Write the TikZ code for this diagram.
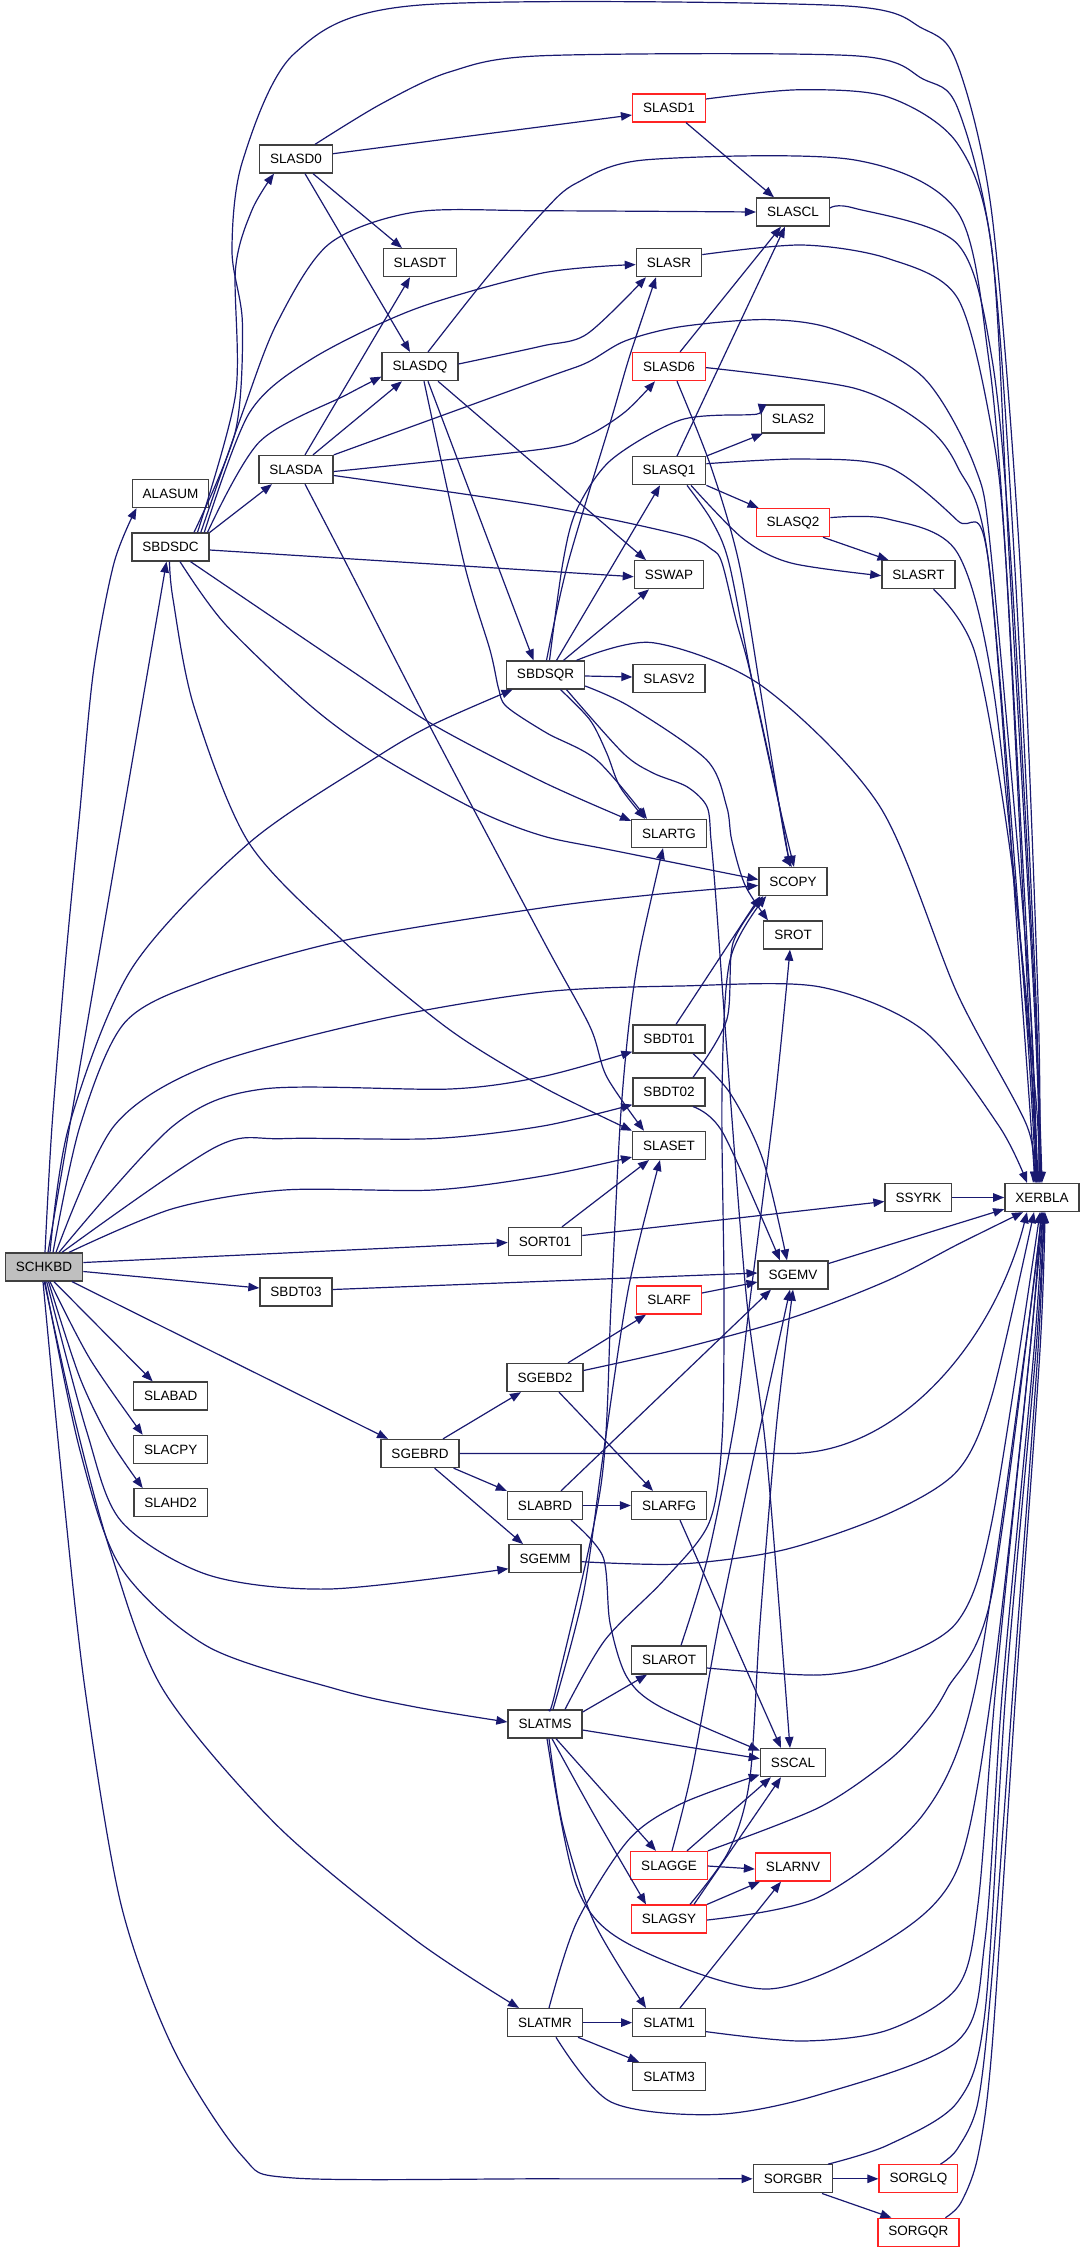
\documentclass[tikz,border=0pt]{standalone}
\usepackage{fontspec}
\setmainfont{Liberation Sans}
\usetikzlibrary{arrows.meta}

\definecolor{callblue}{HTML}{191970}
\definecolor{fnborder}{RGB}{64,64,64}
\definecolor{fnredline}{RGB}{255,36,36}
\definecolor{fngray}{RGB}{191,191,191}

\begin{document}
\begin{tikzpicture}[x=1pt,y=-1pt,
	fn/.style={draw=fnborder,line width=1.3pt,fill=white,inner xsep=10.5pt,inner ysep=0pt,minimum height=28pt,font=\fontsize{13.5pt}{16pt}\selectfont},
	fnred/.style={fn,draw=fnredline},
	fnmain/.style={fn,fill=fngray},
	calls/.style={draw=callblue,line width=1.2pt,-{Triangle[length=11pt,width=8.5pt]}}]
				\useasboundingbox (0,0) rectangle (1085,2252);
				% routines
				\node[fnmain] (schkbd) at (44,1267) {SCHKBD};
				\node[fn] (alasum) at (170.5,493.5) {ALASUM};
				\node[fn] (sbdsdc) at (170.5,547) {SBDSDC};
				\node[fn] (slabad) at (170.7,1396) {SLABAD};
				\node[fn] (slacpy) at (170.7,1449.4) {SLACPY};
				\node[fn] (slahd2) at (170.7,1502.7) {SLAHD2};
				\node[fn] (slasd0) at (296,159) {SLASD0};
				\node[fn] (slasda) at (296,469.5) {SLASDA};
				\node[fn] (sbdt03) at (296,1292) {SBDT03};
				\node[fn] (slasdt) at (420,262.6) {SLASDT};
				\node[fn] (slasdq) at (420,366.6) {SLASDQ};
				\node[fn] (sgebrd) at (420,1453.5) {SGEBRD};
				\node[fn] (sbdsqr) at (545.5,675) {SBDSQR};
				\node[fn] (sort01) at (545,1241.5) {SORT01};
				\node[fn] (sgebd2) at (545,1377.5) {SGEBD2};
				\node[fn] (slabrd) at (545,1505.5) {SLABRD};
				\node[fn] (sgemm) at (545,1558.7) {SGEMM};
				\node[fn] (slatms) at (545,1724) {SLATMS};
				\node[fn] (slatmr) at (545,2022.6) {SLATMR};
				\node[fnred] (slasd1) at (669,108) {SLASD1};
				\node[fn] (slasr) at (669,262.6) {SLASR};
				\node[fnred] (slasd6) at (669,366.6) {SLASD6};
				\node[fn] (slasq1) at (669,470.7) {SLASQ1};
				\node[fn] (sswap) at (669,574.7) {SSWAP};
				\node[fn] (slasv2) at (669,678.5) {SLASV2};
				\node[fn] (slartg) at (669,833.5) {SLARTG};
				\node[fn] (sbdt01) at (669,1039) {SBDT01};
				\node[fn] (sbdt02) at (669,1092) {SBDT02};
				\node[fn] (slaset) at (669,1145.4) {SLASET};
				\node[fnred] (slarf) at (669,1300) {SLARF};
				\node[fn] (slarfg) at (669,1505.5) {SLARFG};
				\node[fn] (slarot) at (669,1660) {SLAROT};
				\node[fnred] (slagge) at (669,1865.5) {SLAGGE};
				\node[fnred] (slagsy) at (669,1919) {SLAGSY};
				\node[fn] (slatm1) at (669,2022.6) {SLATM1};
				\node[fn] (slatm3) at (669,2076.4) {SLATM3};
				\node[fn] (slascl) at (793,212) {SLASCL};
				\node[fn] (slas2) at (793,419) {SLAS2};
				\node[fnred] (slasq2) at (793,522.6) {SLASQ2};
				\node[fn] (scopy) at (793,881.5) {SCOPY};
				\node[fn] (srot) at (793,935) {SROT};
				\node[fn] (sgemv) at (793,1275) {SGEMV};
				\node[fn] (sscal) at (793,1762.6) {SSCAL};
				\node[fnred] (slarnv) at (793,1867) {SLARNV};
				\node[fn] (sorgbr) at (793,2178.8) {SORGBR};
				\node[fn] (slasrt) at (918.5,574.7) {SLASRT};
				\node[fn] (ssyrk) at (918.4,1197.5) {SSYRK};
				\node[fnred] (sorglq) at (918.4,2178.8) {SORGLQ};
				\node[fnred] (sorgqr) at (918.4,2232.3) {SORGQR};
				\node[fn] (xerbla) at (1042,1197.5) {XERBLA};
				% calls from SCHKBD
				\draw[calls] plot[smooth] coordinates {([xshift=1pt]schkbd.north) (52,1126) (65.8,958) (79.6,814) (93.5,671) (114,563) ([xshift=-34pt]alasum.south)};
				\draw[calls] ([xshift=4pt]schkbd.north) -- ([xshift=-4pt]sbdsdc.south);
				\draw[calls] plot[smooth] coordinates {([xshift=6pt]schkbd.north) (69,1126) (131.6,968.7) (249,843) (374,758.7) (433,724.6) ([xshift=-33pt]sbdsqr.south)};
				\draw[calls] plot[smooth] coordinates {([xshift=9pt]schkbd.north) (80,1126) (124.7,1022.6) (207.8,979.5) (346,940) (543,907.7) (650,895) ([yshift=-4pt]scopy.west)};
				\draw[calls] plot[smooth] coordinates {([xshift=12pt]schkbd.north) (114,1126) (207.8,1065.7) (381,1019) (543,992) (680,986) (819,986.7) (923,1030) (999,1126) ([xshift=-15pt]xerbla.north)};
				\draw[calls] plot[smooth] coordinates {([xshift=15pt]schkbd.north) (173,1126) (263,1089) (450,1089) (543,1076.5) ([yshift=2pt]sbdt01.south west)};
				\draw[calls] plot[smooth] coordinates {([xshift=18pt]schkbd.north) (214.7,1147.5) (284,1138.6) (433,1138.6) (543,1126) ([yshift=2pt]sbdt02.south west)};
				\draw[calls] plot[smooth] coordinates {([xshift=25pt]schkbd.north) (173,1208.6) (284,1190) (433,1190) (543,1176) ([yshift=3pt]slaset.south west)};
				\draw[calls] ([yshift=4.5pt]schkbd.east) -- ([yshift=-1pt]sort01.west);
				\draw[calls] ([yshift=-4.5pt]schkbd.east) -- ([yshift=4pt]sbdt03.west);
				\draw[calls] ([xshift=28pt]schkbd.south) -- ([xshift=-32pt]sgebrd.north);
				\draw[calls] ([xshift=10pt]schkbd.south) -- ([xshift=-18pt]slabad.north);
				\draw[calls] plot[smooth] coordinates {([xshift=6pt]schkbd.south) (90,1359) ([xshift=-28pt]slacpy.north)};
				\draw[calls] plot[smooth] coordinates {([xshift=4.5pt]schkbd.south) (79.6,1377) (110,1440) ([xshift=-28pt]slahd2.north)};
				\draw[calls] plot[smooth] coordinates {([xshift=2.7pt]schkbd.south) (86.6,1431) (121,1521) (207.8,1574.8) (329,1589) ([yshift=-10pt]sgemm.west)};
				\draw[calls] plot[smooth] coordinates {([xshift=1pt]schkbd.south) (79.6,1449) (121,1567.6) (207.8,1646.6) (336,1689) (415.5,1707) ([yshift=2pt]slatms.west)};
				\draw[calls] plot[smooth] coordinates {([xshift=0.3pt]schkbd.south) (75,1420) (110,1550) (162.7,1689) (277,1825.4) (415.5,1940) ([xshift=-26pt]slatmr.north)};
				\draw[calls] plot[smooth] coordinates {([xshift=-1pt]schkbd.south) (62,1480) (85,1689) (121,1904.4) (173,2048) (242,2155.8) (294,2178) (543,2178.8) (sorgbr.west)};
				% SBDSDC
				\draw[calls] plot[smooth] coordinates {([xshift=27pt]sbdsdc.north) (235.5,395) (235.5,269) (252,210) ([xshift=-22pt]slasd0.south)};
				\draw[calls] plot[smooth] coordinates {([xshift=23.5pt]sbdsdc.north) (235.5,431) (242.4,323) (232,251) (242.4,161.6) (294,53.9) (415.5,5.4) (836,5.4) (923,28.7) (957.5,64.6) (992,215) (1020,563) (1038,1000) ([xshift=-2pt]xerbla.north)};
				\draw[calls] plot[smooth] coordinates {([xshift=30.3pt]sbdsdc.north) (242.4,413) (277,323) (329,244) (415.5,212) (543,210.8) (slascl.west)};
				\draw[calls] plot[smooth] coordinates {([xshift=33.8pt]sbdsdc.north) (249.3,413) (311.6,359) (415.5,308.8) (543,272.9) ([yshift=-2pt]slasr.west)};
				\draw[calls] plot[smooth] coordinates {([xshift=37pt]sbdsdc.north) (259.7,441.6) (346,395) ([yshift=-10pt]slasdq.west)};
				\draw[calls] (sbdsdc.north east) -- ([xshift=-24pt]slasda.south);
				\draw[calls] ([yshift=-3pt]sbdsdc.east) -- ([yshift=-2pt]sswap.west);
				\draw[calls] plot[smooth] coordinates {([xshift=20pt]sbdsdc.south) (346,667) (433,724.6) (543,782) ([yshift=-2pt]slartg.north west)};
				\draw[calls] plot[smooth] coordinates {([xshift=9.5pt]sbdsdc.south) (225,624) (311.6,706.6) (381,757) (478,810.8) (543,836) (611,850) ([yshift=2pt]scopy.west)};
				\draw[calls] plot[smooth] coordinates {([xshift=-1pt]sbdsdc.south) (173,599) (194,706.6) (249,843) (346,943.6) (450,1030) (543,1087) (slaset.north west)};
				% SLASD0, SLASDA, SLASDQ
				\draw[calls] plot[smooth] coordinates {([xshift=19pt]slasd0.north) (381,104) (450,71.8) (543,55.7) (853.6,55.7) (923,79) (957.5,107.7) (992,251) (1014.6,563) (1036,1000) ([xshift=-3pt]xerbla.north)};
				\draw[calls] ([yshift=5.3pt]slasd0.east) -- ([yshift=-7pt]slasd1.west);
				\draw[calls] ([xshift=17pt]slasd0.south) -- ([xshift=-18pt]slasdt.north);
				\draw[calls] ([xshift=9pt]slasd0.south) -- ([xshift=-10pt]slasdq.north);
				\draw[calls] ([xshift=9pt]slasda.north) -- ([xshift=-10pt]slasdt.south);
				\draw[calls] ([xshift=17pt]slasda.north) -- ([xshift=-18pt]slasdq.south);
				\draw[calls] plot[smooth] coordinates {(slasda.north east) (543,378.8) (587,362.6) (625,341) (680.5,326.7) (767,319.6) (836,330) (923,377) (975,467) (992,563) (1030,1000) ([xshift=-6pt]xerbla.north)};
				\draw[calls] plot[smooth] coordinates {([yshift=-2pt]slasda.east) (543,449) (587,436) (625,412) ([xshift=-14pt]slasd6.south)};
				\draw[calls] plot[smooth] coordinates {([yshift=-6pt]slasda.east) (542,506) (680.5,535) (711.7,549.4) (722,563) (736,620) (749.8,670.7) (777.5,796.4) ([xshift=-3pt]scopy.north)};
				\draw[calls] plot[smooth] coordinates {([xshift=9pt]slasda.south) (346,563) (429,724.6) (543,940) (590,1026.7) (606.7,1076.7) ([xshift=-25pt]slaset.north)};
				\draw[calls] plot[smooth] coordinates {([xshift=8pt]slasdq.north) (484.8,280) (543,212) (576.6,183) (646,159.8) (853.6,159.8) (957.5,212) (988.7,359) (1006,563) (1028,1000) ([xshift=-5pt]xerbla.north)};
				\draw[calls] plot[smooth] coordinates {([yshift=2.6pt]slasdq.east) (542,346) (587,334) ([xshift=-23pt]slasr.south)};
				\draw[calls] ([xshift=18pt]slasdq.south) -- ([xshift=-23pt]sswap.north);
				\draw[calls] ([xshift=8pt]slasdq.south) -- ([xshift=-12pt]sbdsqr.north);
				\draw[calls] plot[smooth] coordinates {([xshift=4pt]slasdq.south) (464,563) (490,650) (498.6,688.7) (506.7,706.7) (546.7,733) (596.7,760) ([xshift=-22pt]slartg.north)};
				% SBDSQR
				\draw[calls] plot[smooth] coordinates {([xshift=1pt]sbdsqr.north) (568,563) (611,420) (630,355) ([xshift=-13pt]slasr.south)};
				\draw[calls] plot[smooth] coordinates {([xshift=4pt]sbdsqr.north) (562.8,563) (576.6,510) (611,460) (680.5,420) (749.8,414.7) ([yshift=4pt]slas2.west)};
				\draw[calls] ([xshift=11pt]sbdsqr.north) -- ([xshift=-9pt]slasq1.south);
				\draw[calls] ([xshift=18pt]sbdsqr.north) -- ([xshift=-20pt]sswap.south);
				\draw[calls] ([yshift=-1pt]sbdsqr.east) -- ([yshift=1.5pt]slasv2.west);
				\draw[calls] plot[smooth] coordinates {([xshift=31pt]sbdsqr.north) (653,642.7) (763,686.7) (880,806.7) (957.5,994) (1027,1126) ([xshift=-9pt]xerbla.north)};
				\draw[calls] plot[smooth] coordinates {([yshift=-11pt]sbdsqr.east) (630,706.7) (706.7,760) (726.7,806.7) (731.7,840) (745,885) ([xshift=-25pt]srot.north)};
				\draw[calls] plot[smooth] coordinates {([xshift=21pt]sbdsqr.south) (623,753) (653,773) (687,786.7) (707,806.7) (711,840) (716,900) (730,1093) (746.7,1300) (766.7,1456.7) ([xshift=-3pt]sscal.north)};
				\draw[calls] plot[smooth] coordinates {([xshift=15pt]sbdsqr.south) (590,720) (606.7,753) (620,786.7) ([xshift=-24pt]slartg.north)};
				% upper right group
				\draw[calls] ([xshift=17pt]slasd1.south) -- ([xshift=-19pt]slascl.north);
				\draw[calls] plot[smooth] coordinates {([yshift=9pt]slasd1.east) (798,89.8) (888,97) (957.5,143.6) (992,251) (1009.5,563) (1034,1000) ([xshift=-1pt]xerbla.north)};
				\draw[calls] plot[smooth] coordinates {([yshift=4pt]slascl.east) (853.6,208) (957.5,244) (992,359) (1011,563) (1035,1000) (xerbla.north)};
				\draw[calls] plot[smooth] coordinates {([yshift=8pt]slasr.east) (802,245) (888,258.5) (957.5,298) (992,431) (1006,563) (1030,1000) ([xshift=-4pt]xerbla.north)};
				\draw[calls] ([xshift=11pt]slasd6.north) -- ([xshift=-12pt]slascl.south);
				\draw[calls] plot[smooth] coordinates {([yshift=-1pt]slasd6.east) (853.6,388) (923,423.7) (957.5,466.8) (988.7,563) (1025,1000) ([xshift=-6pt]xerbla.north)};
				\draw[calls] plot[smooth] coordinates {([xshift=8pt]slasd6.south) (711,466.8) (739,563) (762,700) (785,840) ([xshift=-1pt]scopy.north)};
				\draw[calls] ([xshift=8pt]slasq1.north) -- ([xshift=-8pt]slascl.south);
				\draw[calls] (slasq1.north east) -- ([xshift=2pt]slas2.south west);
				\draw[calls] (slasq1.south east) -- ([xshift=3pt]slasq2.north west);
				\draw[calls] plot[smooth] coordinates {([yshift=7pt]slasq1.east) (802,459) (888,466.8) (957.5,520.6) (988.7,563) (1022,1000) ([xshift=-7pt]xerbla.north)};
				\draw[calls] plot[smooth] coordinates {([xshift=18pt]slasq1.south) (711.7,520.6) (729,563) (752,680) (778,800) ([xshift=1pt]scopy.north)};
				\draw[calls] plot[smooth] coordinates {([xshift=22pt]slasq1.south) (743,538.6) (791,563) ([yshift=-1pt]slasrt.west)};
				\draw[calls] ([xshift=30pt]slasq2.south) -- ([xshift=-30pt]slasrt.north);
				\draw[calls] plot[smooth] coordinates {([yshift=5pt]slasq2.east) (888,519) (957.5,553) (995,700) (1030,1050) ([xshift=-5pt]xerbla.north)};
				\draw[calls] plot[smooth] coordinates {([xshift=15pt]slasrt.south) (975,653) (1010,850) (1036,1100) ([xshift=-3pt]xerbla.north)};
				% middle group
				\draw[calls] ([xshift=7pt]sbdt01.north) -- ([xshift=2pt]scopy.south west);
				\draw[calls] plot[smooth] coordinates {([xshift=24pt]sbdt01.south) (730,1093) (763,1160) ([xshift=-6pt]sgemv.north)};
				\draw[calls] plot[smooth] coordinates {([xshift=24pt]sbdt02.north) (726.7,1020) (733,943) ([xshift=5pt]scopy.south west)};
				\draw[calls] plot[smooth] coordinates {([xshift=24pt]sbdt02.south) (723,1133) ([xshift=-13pt]sgemv.north)};
				\draw[calls] ([xshift=17pt]sort01.north) -- ([xshift=-20pt]slaset.south);
				\draw[calls] ([yshift=6pt]sort01.east) -- ([yshift=-4pt]ssyrk.west);
				\draw[calls] (ssyrk.east) -- (xerbla.west);
				\draw[calls] ([yshift=2.5pt]sbdt03.east) -- ([yshift=2pt]sgemv.west);
				\draw[calls] ([yshift=11.5pt]sgemv.east) -- ([yshift=3pt]xerbla.south west);
				\draw[calls] ([yshift=7pt]slarf.east) -- ([yshift=-7pt]sgemv.west);
				\draw[calls] ([xshift=23pt]sgebrd.north) -- ([xshift=-24pt]sgebd2.south);
				\draw[calls] ([xshift=33.6pt]sgebrd.south) -- (slabrd.north west);
				\draw[calls] ([xshift=14.6pt]sgebrd.south) -- ([xshift=-22pt]sgemm.north);
				\draw[calls] (sgebrd.east) -- (790,1453.5) .. controls (900,1453.5) and (995,1340) .. ([xshift=-15pt]xerbla.south);
				\draw[calls] ([xshift=23pt]sgebd2.north) -- ([xshift=-23pt]slarf.south);
				\draw[calls] ([xshift=14pt]sgebd2.south) -- ([xshift=-16pt]slarfg.north);
				\draw[calls] plot[smooth] coordinates {([yshift=7pt]sgebd2.east) (680.5,1348.6) (791,1318) (888,1280.4) (957.5,1244.5) ([xshift=-19pt]xerbla.south)};
				\draw[calls] (slabrd.east) -- (slarfg.west);
				\draw[calls] ([xshift=16pt]slabrd.north) -- ([xshift=-22pt]sgemv.south);
				\draw[calls] plot[smooth] coordinates {([xshift=26pt]slabrd.south) (603,1556.7) (610,1623) (626.7,1676.7) (660,1706.7) ([yshift=12pt]sscal.west)};
				\draw[calls] ([xshift=11pt]slarfg.south) -- ([xshift=-12pt]sscal.north);
				\draw[calls] plot[smooth] coordinates {([yshift=-3pt]sgemm.east) (680.5,1564) (784.4,1549.7) (888,1513.8) (957.5,1470.7) (992,1395.3) ([xshift=-8pt]xerbla.south)};
				% SLATMS and lower group
				\draw[calls] plot[smooth] coordinates {([xshift=4pt]slatms.north) (556,1689) (601,1485) (611,1305.5) (620,1126) (629,1024) (640,950) ([xshift=-6pt]slartg.south)};
				\draw[calls] plot[smooth] coordinates {([xshift=8pt]slatms.north) (583.5,1593) (604,1449) (628.6,1287.6) ([xshift=-9pt]slaset.south)};
				\draw[calls] plot[smooth] coordinates {([xshift=20pt]slatms.north) (605,1640) (664,1580) (709,1523) (722,1440) (724,1290) (722,1093) (730,960) ([xshift=8pt]scopy.south west)};
				\draw[calls] ([yshift=12pt]slatms.east) -- ([xshift=-22pt]slarot.south);
				\draw[calls] ([yshift=-6pt]slatms.east) -- ([yshift=4pt]sscal.west);
				\draw[calls] ([xshift=11pt]slatms.south) -- ([xshift=-13pt]slagge.north);
				\draw[calls] plot[smooth] coordinates {([xshift=7pt]slatms.south) (594,1814.7) ([xshift=-23pt]slagsy.north)};
				\draw[calls] plot[smooth] coordinates {([xshift=4pt]slatms.south) (562.8,1825.4) (594,1922) ([xshift=-23pt]slatm1.north)};
				\draw[calls] plot[smooth] coordinates {([xshift=2pt]slatms.south) (576.6,1886.5) (628.6,1944) (767,1989) (888,1940) (957.5,1868.5) (992,1689) (1030,1350) ([xshift=-1pt]xerbla.south)};
				\draw[calls] plot[smooth] coordinates {([xshift=12pt]slarot.north) (708,1556) (735,1420) (750,1300) (775,1100) ([xshift=-3pt]srot.south)};
				\draw[calls] plot[smooth] coordinates {([yshift=-8pt]slarot.east) (819,1675) (888,1661) (957.5,1621.5) (992,1521) ([xshift=-2pt]xerbla.south)};
				\draw[calls] ([yshift=-0.5pt]slagge.east) -- ([yshift=-2pt]slarnv.west);
				\draw[calls] ([xshift=18pt]slagge.north) -- ([xshift=-22pt]sscal.south);
				\draw[calls] plot[smooth] coordinates {([xshift=3pt]slagge.north) (692,1770) (719,1623) (746.7,1490) ([xshift=-3pt]sgemv.south)};
				\draw[calls] plot[smooth] coordinates {(slagge.north east) (819,1807.5) (888,1761) (923,1725) (947,1689) (992,1593) (xerbla.south)};
				\draw[calls] (slagsy.north east) -- ([xshift=-33pt]slarnv.south);
				\draw[calls] ([xshift=25pt]slagsy.north) -- ([xshift=-12pt]sscal.south);
				\draw[calls] plot[smooth] coordinates {([xshift=21pt]slagsy.north) (729,1850.6) (749.8,1778.8) (760,1623) (776.7,1423) (sgemv.south)};
				\draw[calls] plot[smooth] coordinates {([yshift=-1pt]slagsy.east) (819,1897) (923,1814.7) (975,1689) (1025,1350) (xerbla.south)};
				\draw[calls] ([xshift=11pt]slatm1.north) -- ([xshift=-12pt]slarnv.south);
				\draw[calls] plot[smooth] coordinates {([yshift=-9pt]slatm1.east) (801.7,2041) (888,2030) (957.5,1987) (978,1904) (995.6,1689) (1030,1350) ([xshift=1pt]xerbla.south)};
				\draw[calls] (slatmr.east) -- (slatm1.west);
				\draw[calls] ([xshift=33pt]slatmr.south) -- ([xshift=-30pt]slatm3.north);
				\draw[calls] plot[smooth] coordinates {([xshift=4pt]slatmr.north) (576.6,1922.4) (628.6,1839.8) (680.5,1804) ([yshift=-12pt]sscal.west)};
				\draw[calls] plot[smooth] coordinates {([xshift=11pt]slatmr.south) (611,2102) (715,2114.5) (819,2094.7) (957.5,2041) (985,1940) (1002.5,1689) (1034,1350) ([xshift=1pt]xerbla.south)};
				\draw[calls] (sorgbr.east) -- (sorglq.west);
				\draw[calls] ([xshift=29pt]sorgbr.south) -- ([xshift=-27pt]sorgqr.north);
				\draw[calls] plot[smooth] coordinates {([xshift=35pt]sorgbr.north) (888,2145) (957.5,2102) (985,2012) (1006,1689) (1036,1350) ([xshift=2pt]xerbla.south)};
				\draw[calls] plot[smooth] coordinates {([xshift=22pt]sorglq.north) (957.5,2148.6) (978,2102) (992,1976) (1013,1689) (1038,1350) ([xshift=2pt]xerbla.south)};
				\draw[calls] plot[smooth] coordinates {([xshift=27pt]sorgqr.north) (961,2202.5) (978,2155.8) (992,2048) (1016,1689) (1040,1350) ([xshift=3pt]xerbla.south)};
			\end{tikzpicture}
\end{document}
